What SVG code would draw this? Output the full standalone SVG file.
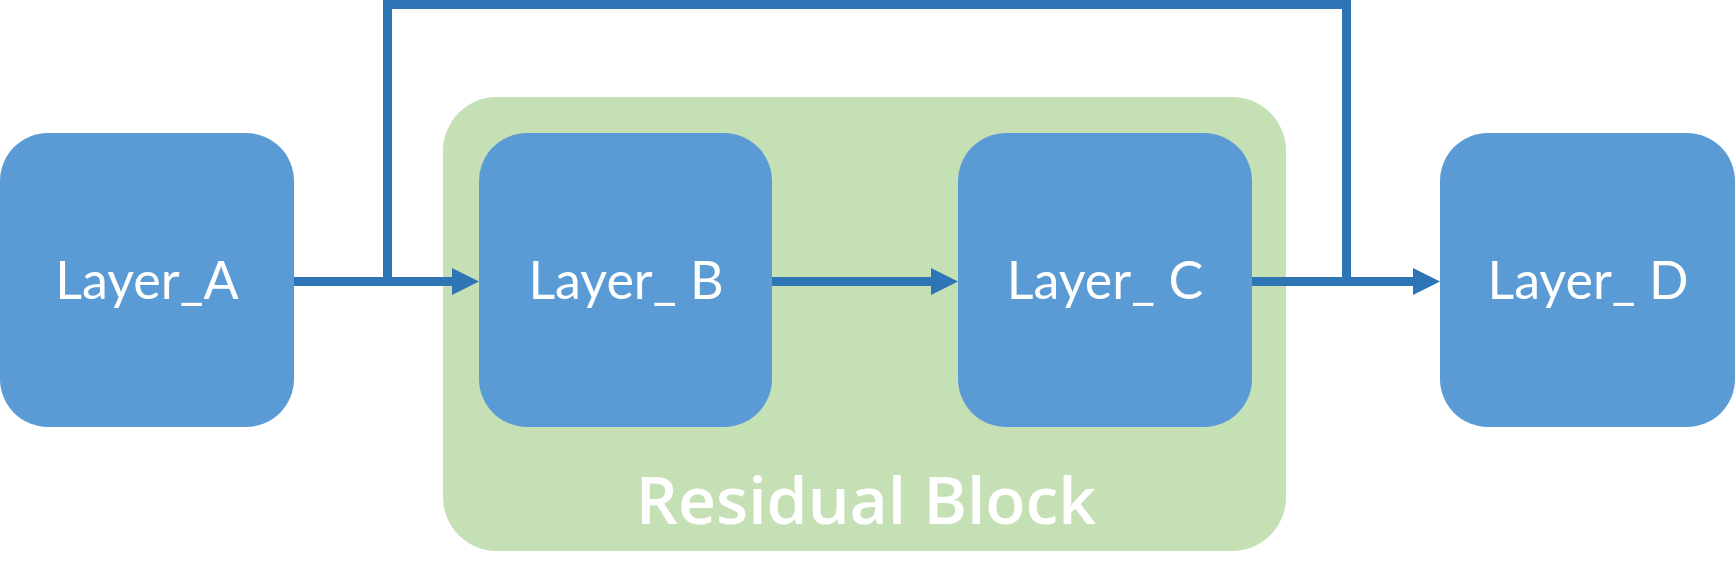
<svg xmlns="http://www.w3.org/2000/svg" width="1735" height="580" viewBox="0 0 1735 580">
  <defs>
    <marker id="arrow" viewBox="0 0 27 27" refX="0" refY="13.5" markerWidth="27" markerHeight="27" markerUnits="userSpaceOnUse" orient="auto">
      <path d="M0,0 L27,13.5 L0,27 Z" fill="#2E75B6"/>
    </marker>
    <style>
      .box { fill: #5B9BD5; }
      .group { fill: #C5E0B4; }
      .label { font-family: Lato, "Open Sans", "Noto Sans", sans-serif; font-size: 52px; fill: #FFFFFF; text-anchor: middle; }
      .title { font-family: "Open Sans", "Noto Sans", sans-serif; font-size: 66px; font-weight: 600; fill: #FFFFFF; text-anchor: middle; }
      .conn { fill: none; stroke: #2E75B6; stroke-width: 9; stroke-linejoin: miter; }
    </style>
  </defs>
  <rect width="1735" height="580" fill="#FFFFFF"/>
  <g id="residual-block">
    <rect class="group" x="443" y="97" width="843" height="454" rx="54" ry="54"/>
    <text class="title" x="866" y="524">Residual Block</text>
  </g>
  <g id="layer-a">
    <rect class="box" x="0" y="133" width="294" height="294" rx="48" ry="48"/>
    <text class="label" x="147" y="299">Layer_A</text>
  </g>
  <g id="layer-b">
    <rect class="box" x="479" y="133" width="293" height="294" rx="48" ry="48"/>
    <text class="label" x="626" y="299">Layer_ B</text>
  </g>
  <g id="layer-c">
    <rect class="box" x="958" y="133" width="294" height="294" rx="48" ry="48"/>
    <text class="label" x="1105" y="299">Layer_ C</text>
  </g>
  <g id="layer-d">
    <rect class="box" x="1440" y="133" width="295" height="294" rx="48" ry="48"/>
    <text class="label" x="1588" y="299">Layer_ D</text>
  </g>
  <g id="connectors">
    <path class="conn" d="M294,281.5 H452" marker-end="url(#arrow)"/>
    <path class="conn" d="M387.5,281.5 V4.5 H1346.5 V281.5"/>
    <path class="conn" d="M772,281.5 H931" marker-end="url(#arrow)"/>
    <path class="conn" d="M1252,281.5 H1413" marker-end="url(#arrow)"/>
  </g>
</svg>
